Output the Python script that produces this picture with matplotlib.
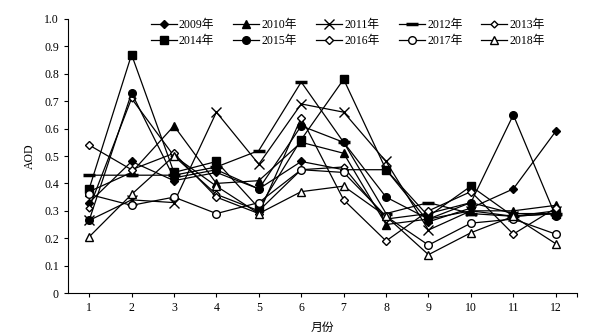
import matplotlib
matplotlib.use("Agg")
import matplotlib.pyplot as plt

plt.rcParams['font.family'] = ['Liberation Serif', 'Noto Sans CJK SC']

months = list(range(1, 13))
years = ["2009年", "2010年", "2011年", "2012年", "2013年",
         "2014年", "2015年", "2016年", "2017年", "2018年"]

aod_2009 = [0.33, 0.48, 0.41, 0.44, 0.38, 0.48, 0.45, 0.45, 0.26, 0.31, 0.38, 0.59]
aod_2010 = [0.37, 0.44, 0.61, 0.40, 0.41, 0.55, 0.51, 0.25, 0.27, 0.30, 0.30, 0.32]
aod_2011 = [0.265, 0.34, 0.33, 0.66, 0.47, 0.69, 0.66, 0.48, 0.23, 0.30, 0.28, 0.30]
aod_2012 = [0.43, 0.43, 0.43, 0.46, 0.52, 0.77, 0.55, 0.29, 0.33, 0.29, 0.28, 0.29]
aod_2013 = [0.31, 0.71, 0.50, 0.36, 0.30, 0.45, 0.46, 0.27, 0.29, 0.33, 0.29, 0.29]
aod_2014 = [0.38, 0.87, 0.44, 0.48, 0.31, 0.56, 0.78, 0.45, 0.28, 0.39, 0.28, 0.29]
aod_2015 = [0.265, 0.73, 0.42, 0.45, 0.38, 0.61, 0.55, 0.35, 0.27, 0.33, 0.65, 0.28]
aod_2016 = [0.54, 0.45, 0.51, 0.35, 0.29, 0.64, 0.34, 0.19, 0.30, 0.37, 0.215, 0.31]
aod_2017 = [0.36, 0.32, 0.35, 0.29, 0.33, 0.45, 0.44, 0.28, 0.175, 0.255, 0.27, 0.215]
aod_2018 = [0.205, 0.36, 0.50, 0.39, 0.29, 0.37, 0.39, 0.28, 0.14, 0.22, 0.28, 0.18]

series = [aod_2009, aod_2010, aod_2011, aod_2012, aod_2013,
          aod_2014, aod_2015, aod_2016, aod_2017, aod_2018]
# marker, size, face
styles = [("D", 4.5, "black"), ("^", 5.5, "black"), ("x", 6.5, "black"),
          ("_", 8, "black"), ("D", 3.5, "white"), ("s", 5.5, "black"),
          ("o", 5.5, "black"), ("D", 4.5, "white"), ("o", 5.5, "white"),
          ("^", 5.5, "white")]

fig = plt.figure(figsize=(5.96, 3.33), dpi=100)
ax = fig.add_axes([0.114, 0.12, 0.854, 0.823])

handles = []
for vals, lab, (m, ms, fc) in zip(series, years, styles):
    mew = 2.5 if m == "_" else 1.0
    h, = ax.plot(months, vals, color="black", lw=0.9, marker=m, markersize=ms,
                 markerfacecolor=fc, markeredgecolor="black", markeredgewidth=mew,
                 label=lab)
    handles.append(h)

ax.set_xlim(0.5, 12.5)
ax.set_ylim(0, 1.0)
ax.set_xticks(months + [12.5])
ax.set_xticklabels([str(m) for m in months] + [""])
ax.set_yticks([i / 10 for i in range(11)])
ax.set_yticklabels(["0"] + ["%.1f" % (i / 10) for i in range(1, 11)])
ax.tick_params(direction="out", length=3, width=0.8, labelsize=8.5)
ax.spines["top"].set_visible(False)
ax.spines["right"].set_visible(False)
ax.spines["left"].set_linewidth(0.8)
ax.spines["bottom"].set_linewidth(0.8)
ax.set_xlabel("月份", fontsize=8.5, labelpad=6)
ax.set_ylabel("AOD", fontsize=8.5, labelpad=6)

order = [0, 5, 1, 6, 2, 7, 3, 8, 4, 9]
ax.legend([handles[i] for i in order], [years[i] for i in order],
          ncol=5, loc="upper center", bbox_to_anchor=(0.55, 1.04),
          frameon=False, fontsize=8.5, handlelength=2.2, handletextpad=0.2,
          columnspacing=1.6, labelspacing=0.35)

fig.savefig("out.png", dpi=100)
